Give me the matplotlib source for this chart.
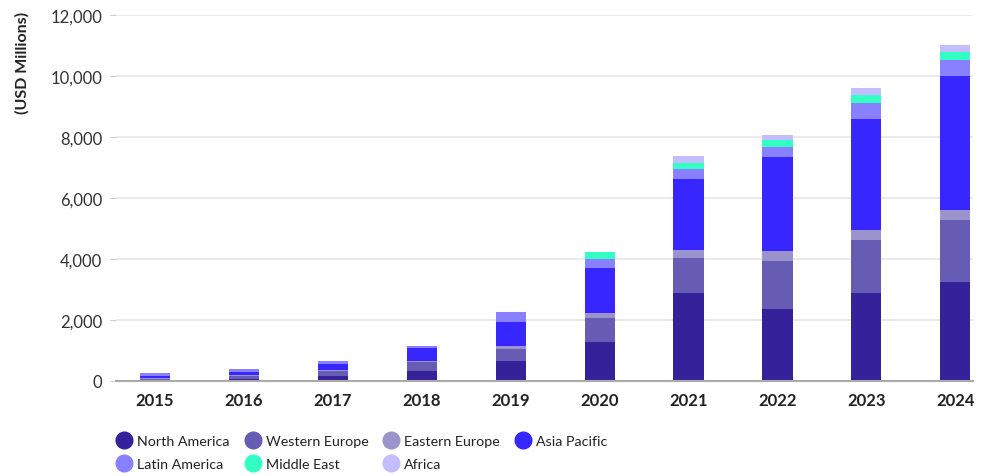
from matplotlib import pyplot as plt
from matplotlib.lines import Line2D
from matplotlib.ticker import FuncFormatter
import numpy as np

plt.rcParams['font.family'] = ['Lato', 'DejaVu Sans']

years = ["2015", "2016", "2017", "2018", "2019", "2020", "2021", "2022", "2023", "2024"]

north_america = [30, 66, 175, 328, 655, 1278, 2883, 2359, 2883, 3243]
western_europe = [45, 98, 142, 295, 393, 786, 1147, 1572, 1736, 2031]
eastern_europe = [13, 33, 55, 33, 99, 164, 262, 328, 328, 328]
asia_pacific = [76, 98, 197, 426, 786, 1474, 2325, 3079, 3636, 4390]
latin_america = [98, 98, 98, 66, 327, 295, 328, 328, 524, 524]
middle_east = [0, 0, 0, 0, 0, 229, 207, 229, 262, 262]
africa = [0, 0, 0, 0, 0, 0, 219, 164, 230, 229]

series = [
    ("North America", north_america, "#35219a"),
    ("Western Europe", western_europe, "#675cb3"),
    ("Eastern Europe", eastern_europe, "#9a93cc"),
    ("Asia Pacific", asia_pacific, "#3726ff"),
    ("Latin America", latin_america, "#8880ff"),
    ("Middle East", middle_east, "#33ffc5"),
    ("Africa", africa, "#c3bdfe"),
]

fig = plt.figure(figsize=(9.86, 4.77), dpi=100)
ax = fig.add_axes([116/986, 1-382/477, (973-116)/986, (382-16)/477])

x = np.arange(len(years))
bottom = np.zeros(len(years))
for name, vals, col in series:
    ax.bar(x, vals, width=0.34, bottom=bottom, color=col, label=name, zorder=3)
    bottom += np.array(vals)

ax.set_xlim(-0.44, 9.2)
ax.set_ylim(0, 12000)
ax.set_yticks(range(0, 12001, 2000))
ax.yaxis.set_major_formatter(FuncFormatter(lambda v, p: f"{int(v):,}"))
ax.set_xticks(x)
ax.set_xticklabels(years, fontweight="bold", fontsize=12, color="#222222")
ax.tick_params(axis="x", length=0, pad=8)
ax.tick_params(axis="y", length=4, color="#cccccc", labelsize=12, labelcolor="#333333", pad=6)

ax.grid(axis="y", color="#e6e6e6", linewidth=1.2, zorder=0)
for s in ["top", "right", "left"]:
    ax.spines[s].set_visible(False)
ax.spines["bottom"].set_color("#aaaaaa")
ax.spines["bottom"].set_linewidth(1.5)
ax.spines["bottom"].set_zorder(4)

fig.text(22/986, 1-63/477, "(USD Millions)", rotation=90, ha="center", va="center",
         fontweight="bold", fontsize=11.5, color="#222222")

# legend fills column by column, so order the entries to read row by row
order = [0, 4, 1, 5, 2, 6, 3]
handles = [Line2D([], [], marker="o", linestyle="", markersize=12,
                  markerfacecolor=series[i][2], markeredgecolor=series[i][2]) for i in order]
labels = [series[i][0] for i in order]
fig.legend(handles, labels, ncol=4, loc="upper left", bbox_to_anchor=(103/986, 1-423/477),
           frameon=False, fontsize=10.3, handletextpad=0.3, columnspacing=1.0,
           labelspacing=0.8, handlelength=1.2, labelcolor="#222222")

fig.savefig("out.png", dpi=100)
